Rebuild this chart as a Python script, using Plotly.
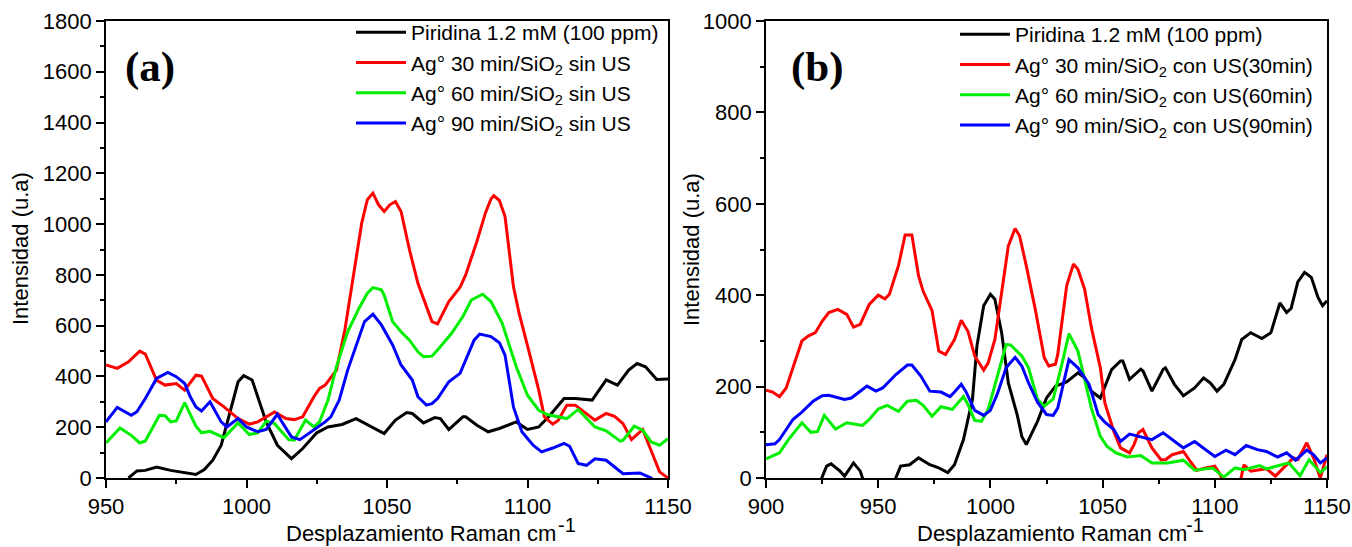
import plotly.graph_objects as go

# ---------------- Panel (a): Ag°/SiO2 sin US ----------------
a_pyr_x = [958, 961, 964, 968, 973, 978, 982, 985, 988, 991, 995, 997, 999, 1002, 1004, 1007, 1011, 1016,
           1020, 1025, 1029, 1034, 1039, 1044, 1049, 1053, 1057, 1059, 1063, 1067, 1069, 1072, 1077, 1078,
           1082, 1086, 1090, 1096, 1100, 1104, 1108, 1113, 1117, 1123, 1128, 1132, 1136, 1139, 1142, 1146, 1150]
a_pyr_y = [0, 28, 30, 43, 30, 20, 14, 33, 70, 129, 293, 379, 403, 386, 320, 221, 129, 76,
           116, 178, 201, 211, 234, 204, 175, 228, 258, 254, 217, 238, 234, 191, 241, 241,
           208, 182, 195, 221, 191, 201, 247, 313, 313, 307, 386, 366, 425, 451, 438, 388, 390]

a_30_x = [950, 954, 958, 962, 964, 968, 971, 975, 978, 982, 984, 988, 992, 997, 1001, 1004, 1010, 1014,
          1017, 1020, 1024, 1026, 1028, 1032, 1035, 1039, 1041, 1043, 1045, 1047, 1049, 1051, 1053, 1055,
          1058, 1061, 1064, 1066, 1068, 1072, 1076, 1078, 1082, 1085, 1087, 1088, 1090, 1092, 1095, 1097,
          1101, 1104, 1106, 1109, 1111, 1114, 1117, 1120, 1124, 1128, 1131, 1134, 1137, 1141, 1144, 1147, 1150]
a_30_y = [445, 432, 458, 500, 488, 385, 366, 372, 346, 405, 401, 313, 280, 234, 212, 221, 260, 234,
          230, 241, 320, 353, 366, 425, 583, 859, 1004, 1096, 1122, 1076, 1050, 1076, 1089, 1050,
          899, 767, 675, 616, 607, 695, 751, 800, 932, 1043, 1099, 1112, 1093, 1030, 754, 649,
          478, 346, 241, 212, 228, 287, 287, 261, 228, 254, 243, 214, 151, 191, 109, 24, 0]

a_60_x = [950, 955, 959, 962, 964, 969, 971, 973, 975, 978, 982, 984, 987, 992, 997, 1001, 1004, 1007,
          1010, 1015, 1017, 1021, 1024, 1026, 1029, 1032, 1036, 1040, 1043, 1045, 1048, 1049, 1052, 1055,
          1058, 1061, 1063, 1066, 1068, 1073, 1077, 1080, 1084, 1087, 1091, 1096, 1100, 1104, 1107, 1110,
          1114, 1118, 1124, 1128, 1133, 1134, 1138, 1141, 1144, 1147, 1150]
a_60_y = [138, 197, 168, 138, 146, 247, 245, 221, 225, 297, 204, 178, 184, 159, 217, 171, 178, 224,
          214, 151, 149, 228, 201, 221, 307, 438, 576, 668, 728, 750, 741, 720, 616, 576,
          543, 497, 478, 480, 504, 570, 636, 701, 724, 695, 609, 438, 326, 267, 250, 243,
          234, 270, 201, 186, 145, 149, 204, 188, 142, 129, 155]

a_90_x = [950, 954, 959, 961, 964, 968, 972, 975, 978, 980, 982, 984, 987, 991, 993, 997, 1000, 1004,
          1007, 1011, 1013, 1016, 1019, 1024, 1028, 1030, 1033, 1036, 1040, 1042, 1045, 1048, 1052, 1055,
          1059, 1061, 1064, 1066, 1068, 1072, 1076, 1078, 1081, 1083, 1087, 1090, 1092, 1095, 1098, 1102,
          1105, 1109, 1113, 1115, 1118, 1121, 1124, 1128, 1134, 1140, 1144, 1146]
a_90_y = [221, 278, 247, 261, 313, 392, 416, 399, 372, 320, 280, 264, 300, 221, 201, 234, 201, 182,
          191, 251, 214, 162, 151, 188, 221, 241, 307, 425, 550, 616, 645, 603, 524, 445,
          386, 320, 287, 293, 313, 379, 412, 464, 543, 567, 557, 533, 484, 280, 182, 129,
          103, 118, 136, 125, 57, 50, 76, 70, 17, 20, 0, -20]

# ---------------- Panel (b): Ag°/SiO2 con US ----------------
b_pyr_x = [924, 927, 929, 933, 935, 939, 942, 944, None,
           957, 960, 964, 968, 973, 977, 981, 984, 988, 992, 994, 997, 1000, 1002, 1005, 1008, 1012,
           1014, 1016, 1021, 1025, 1029, 1034, 1039, 1042, 1045, 1049, 1052, 1054, 1058, 1059, 1062,
           1067, 1068, 1072, 1077, 1078, 1082, 1086, 1091, 1095, 1098, 1101, 1104, 1109, 1112, 1116,
           1121, 1125, 1129, 1132, 1134, 1137, 1140, 1143, 1146, 1148, 1150]
b_pyr_y = [-10, 26, 31, 15, 4, 33, 15, -15, None,
           -10, 26, 29, 44, 29, 22, 12, 29, 84, 172, 289, 377, 402, 391, 318, 208, 137,
           91, 73, 124, 175, 201, 210, 230, 219, 190, 175, 212, 237, 256, 256, 216,
           238, 234, 190, 238, 241, 205, 180, 197, 219, 208, 190, 205, 259, 303, 318,
           305, 318, 383, 362, 371, 429, 450, 439, 395, 377, 388]

b_30_x = [900, 903, 906, 909, 913, 916, 919, 922, 925, 928, 932, 936, 939, 942, 946, 950, 953, 955,
          959, 962, 965, 968, 970, 974, 977, 980, 984, 987, 990, 993, 997, 999, 1002, 1005, 1008,
          1011, 1013, 1016, 1020, 1024, 1026, 1029, 1030, 1034, 1037, 1039, 1042, 1045, 1049, 1051,
          1055, 1058, 1062, 1064, 1066, 1068, 1072, 1076, 1078, 1081, 1086, 1089, 1092, 1096, 1100,
          1102, 1104, 1108, 1111, 1113, 1116, 1120, 1123, 1127, 1132, 1135, 1137, 1141, 1144, 1147, 1150]
b_30_y = [192, 188, 178, 197, 256, 300, 311, 318, 343, 362, 369, 358, 330, 336, 380, 400, 392, 402,
          464, 532, 532, 442, 409, 366, 278, 270, 303, 345, 321, 267, 236, 252, 303, 406, 508,
          546, 530, 464, 369, 263, 245, 249, 270, 421, 468, 457, 413, 329, 241, 164,
          102, 66, 55, 73, 99, 106, 66, 40, 40, 51, 58, 37, 17, 22, 26,
          11, -10, -25, -15, 29, 15, 18, 20, 4, 29, 44, 40, 77, 44, 0, 51]

b_60_x = [900, 906, 910, 916, 920, 923, 926, 931, 936, 943, 946, 950, 954, 959, 963, 967, 970, 974,
          978, 983, 988, 990, 993, 996, 999, 1002, 1007, 1009, 1014, 1017, 1021, 1024, 1028, 1032,
          1035, 1039, 1042, 1045, 1049, 1052, 1056, 1061, 1067, 1072, 1079, 1086, 1091, 1099, 1104,
          1109, 1113, 1120, 1123, 1128, 1133, 1138, 1142, 1147, 1150]
b_60_y = [42, 55, 84, 121, 100, 102, 137, 107, 121, 115, 128, 151, 159, 146, 168, 170, 159, 135,
          156, 150, 178, 161, 126, 124, 150, 205, 292, 291, 267, 241, 172, 157, 173, 252,
          316, 278, 216, 153, 91, 69, 55, 46, 49, 33, 33, 39, 17, 22, 2,
          22, 18, 27, 20, 26, 33, 5, 40, 12, 24]

b_90_x = [900, 904, 906, 912, 916, 921, 925, 928, 935, 938, 945, 949, 952, 958, 963, 965, 969, 973,
          978, 982, 984, 987, 989, 993, 997, 1000, 1003, 1007, 1011, 1014, 1017, 1021, 1025, 1028,
          1030, 1034, 1035, 1039, 1044, 1048, 1051, 1055, 1058, 1062, 1067, 1072, 1077, 1081, 1086,
          1091, 1096, 1100, 1105, 1109, 1114, 1119, 1123, 1128, 1132, 1136, 1141, 1144, 1147, 1150]
b_90_y = [73, 75, 84, 128, 144, 168, 180, 181, 172, 175, 201, 190, 197, 227, 247, 247, 223, 190,
          188, 178, 188, 205, 190, 148, 137, 148, 183, 241, 264, 245, 208, 166, 139, 137,
          153, 241, 259, 241, 205, 139, 122, 106, 80, 96, 90, 84, 99, 85, 66,
          80, 62, 47, 61, 51, 71, 62, 58, 46, 55, 39, 61, 51, 33, 44]

legend_a = ["Piridina 1.2 mM (100 ppm)",
            "Ag° 30 min/SiO<sub>2</sub> sin US",
            "Ag° 60 min/SiO<sub>2</sub> sin US",
            "Ag° 90 min/SiO<sub>2</sub> sin US"]
legend_b = ["Piridina 1.2 mM (100 ppm)",
            "Ag° 30 min/SiO<sub>2</sub> con US(30min)",
            "Ag° 60 min/SiO<sub>2</sub> con US(60min)",
            "Ag° 90 min/SiO<sub>2</sub> con US(90min)"]
colors = ["#000000", "#ff0000", "#00ee00", "#0000ff"]

FONT = "Liberation Sans, Arial, sans-serif"
W, H = 1352, 547

fig = go.Figure()

series_a = [(a_pyr_x, a_pyr_y), (a_30_x, a_30_y), (a_60_x, a_60_y), (a_90_x, a_90_y)]
series_b = [(b_pyr_x, b_pyr_y), (b_30_x, b_30_y), (b_60_x, b_60_y), (b_90_x, b_90_y)]

for (xs, ys), name, c in zip(series_a, legend_a, colors):
    fig.add_trace(go.Scatter(x=xs, y=ys, mode="lines", name=name, line=dict(color=c, width=3),
                             xaxis="x", yaxis="y", legend="legend", connectgaps=False))
for (xs, ys), name, c in zip(series_b, legend_b, colors):
    fig.add_trace(go.Scatter(x=xs, y=ys, mode="lines", name=name, line=dict(color=c, width=3),
                             xaxis="x2", yaxis="y2", legend="legend2", connectgaps=False))

def px_x(p):
    return p / W

def px_y(p):
    return 1 - p / H

axis_common = dict(showline=True, linecolor="black", linewidth=1.6, mirror=True,
                   ticks="outside", ticklen=8, tickwidth=1.6, tickcolor="black",
                   showgrid=False, zeroline=False, automargin=False,
                   tickfont=dict(family=FONT, size=22, color="black"))
minor_ticks = dict(ticks="outside", ticklen=4, tickwidth=1.6, tickcolor="black")

fig.update_layout(
    width=W, height=H, autosize=False,
    margin=dict(l=0, r=0, t=0, b=0, autoexpand=False),
    paper_bgcolor="white", plot_bgcolor="white",
    xaxis=dict(axis_common, domain=[px_x(106), px_x(668)], range=[950, 1150], dtick=50,
               minor=dict(minor_ticks, dtick=25), anchor="y"),
    yaxis=dict(axis_common, domain=[px_y(478), px_y(21)], range=[0, 1800], dtick=200,
               minor=dict(minor_ticks, dtick=100), anchor="x"),
    xaxis2=dict(axis_common, domain=[px_x(766), px_x(1327)], range=[900, 1150], dtick=50,
                minor=dict(minor_ticks, dtick=25), anchor="y2"),
    yaxis2=dict(axis_common, domain=[px_y(478), px_y(21)], range=[0, 1000], dtick=200,
                minor=dict(minor_ticks, dtick=100), anchor="x2"),
    legend=dict(x=px_x(351), y=px_y(12), xanchor="left", yanchor="top",
                font=dict(family=FONT, size=21, color="black"), bgcolor="rgba(0,0,0,0)",
                itemwidth=50, tracegroupgap=0),
    legend2=dict(x=px_x(955), y=px_y(14), xanchor="left", yanchor="top",
                 font=dict(family=FONT, size=21, color="black"), bgcolor="rgba(0,0,0,0)",
                 itemwidth=50, tracegroupgap=0),
)

title_font = dict(family=FONT, size=22, color="black")
sup_font = dict(family=FONT, size=20, color="black")
label_font = dict(family="Liberation Serif, Times New Roman, serif", size=43, color="black")

def note(text, x, y, font, xanchor="center", yanchor="middle", angle=0):
    return dict(text=text, x=px_x(x), y=px_y(y), xref="paper", yref="paper",
                xanchor=xanchor, yanchor=yanchor, textangle=angle,
                showarrow=False, font=font)

annotations = [
    note("<b>(a)</b>", 150, 67, label_font),
    note("<b>(b)</b>", 817, 67, label_font),
    note("Intensidad (u.a)", 21, 249, title_font, angle=-90),
    note("Intensidad (u.a)", 692, 249, title_font, angle=-90),
    note("Desplazamiento Raman cm", 421, 533, title_font),
    note("-1", 556, 525, sup_font, xanchor="left"),
    note("Desplazamiento Raman cm", 1052, 533, title_font),
    note("-1", 1184, 525, sup_font, xanchor="left"),
]
fig.update_layout(annotations=annotations)

fig.write_html("out.html")
